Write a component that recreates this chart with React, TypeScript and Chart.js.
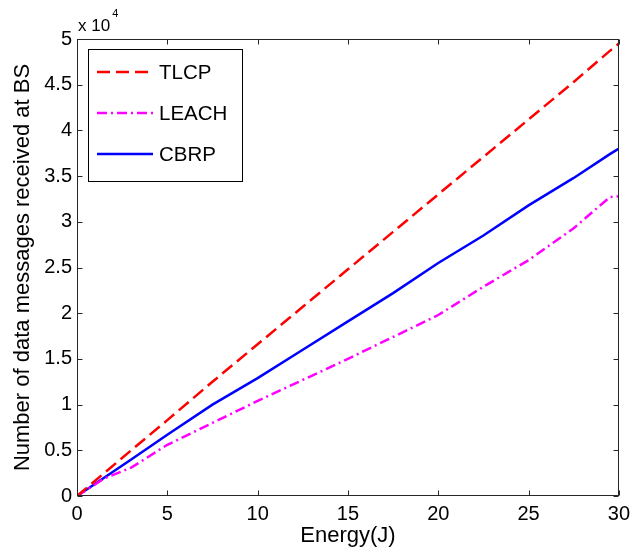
import React, { useEffect, useRef } from "react";
import { Chart, registerables } from "chart.js";

Chart.register(...registerables);

// Energy (J) sample points
const energy = [0, 1.5, 3, 5, 7.5, 10, 12.5, 15, 17.5, 20, 22.5, 25, 27.5, 29.5, 30];
// Number of data messages received at BS
const tlcp = [0, 2500, 5000, 8300, 12500, 16600, 20700, 24800, 28900, 33000, 37100, 41200, 45300, 48700, 49500];
const leach = [0, 1900, 3100, 5600, 8000, 10400, 12700, 15000, 17400, 19800, 22900, 25800, 29300, 32700, 32800];
const cbrp = [0, 2000, 4000, 6700, 10000, 12900, 16000, 19100, 22200, 25500, 28500, 31800, 34800, 37400, 38000];

const seriesLabels = ["TLCP", "LEACH", "CBRP"];
const xTitle = "Energy(J)";
const yTitle = "Number of data messages received at BS";
const yExponentBase = "x 10";
const yExponent = "4";

const FONT = '"Liberation Sans", Arial, Helvetica, sans-serif';

const pts = (ys: number[]) => energy.map((x, i) => ({ x, y: ys[i] }));

const framePlugin = {
  id: "matlabFrame",
  afterDraw(chart: any) {
    const { ctx, chartArea: a, scales } = chart;
    ctx.save();
    const L = Math.round(a.left) + 0.5;
    const R = Math.round(a.right) - 0.5;
    const T = Math.round(a.top) + 0.5;
    const B = Math.round(a.bottom) - 0.5;
    ctx.strokeStyle = "#262626";
    ctx.lineWidth = 1;
    ctx.setLineDash([]);
    ctx.strokeRect(L, T, R - L, B - T);
    const tl = 5;
    ctx.beginPath();
    scales.x.ticks.forEach((t: any) => {
      const px = Math.round(scales.x.getPixelForValue(t.value)) + 0.5;
      ctx.moveTo(px, B);
      ctx.lineTo(px, B - tl);
      ctx.moveTo(px, T);
      ctx.lineTo(px, T + tl);
    });
    scales.y.ticks.forEach((t: any) => {
      const py = Math.round(scales.y.getPixelForValue(t.value)) + 0.5;
      ctx.moveTo(L, py);
      ctx.lineTo(L + tl, py);
      ctx.moveTo(R, py);
      ctx.lineTo(R - tl, py);
    });
    ctx.stroke();

    // exponent label
    ctx.fillStyle = "#000";
    ctx.textBaseline = "middle";
    ctx.textAlign = "left";
    ctx.font = `17px ${FONT}`;
    ctx.fillText(yExponentBase, 78, 26);
    const w = ctx.measureText(yExponentBase).width;
    ctx.font = `11px ${FONT}`;
    ctx.fillText(yExponent, 78 + w + 2, 14);

    // legend
    const bx = 88.5, by = 49.5, bw = 154, bh = 132;
    ctx.fillStyle = "#fff";
    ctx.fillRect(bx, by, bw, bh);
    ctx.strokeStyle = "#000";
    ctx.lineWidth = 1;
    ctx.strokeRect(bx, by, bw, bh);
    chart.data.datasets.forEach((ds: any, i: number) => {
      const y = 72 + i * 41;
      ctx.beginPath();
      ctx.strokeStyle = ds.borderColor;
      ctx.lineWidth = ds.borderWidth;
      ctx.setLineDash(ds.borderDash || []);
      ctx.moveTo(97, y);
      ctx.lineTo(153, y);
      ctx.stroke();
      ctx.setLineDash([]);
      ctx.fillStyle = "#000";
      ctx.font = `20.5px ${FONT}`;
      ctx.textAlign = "left";
      ctx.textBaseline = "middle";
      ctx.fillText(ds.label, 159, y + 1);
    });
    ctx.restore();
  },
};

export default function App() {
  const ref = useRef<HTMLCanvasElement>(null);
  useEffect(() => {
    document.body.style.margin = "0";
    const chart = new Chart(ref.current!, {
      type: "line",
      data: {
        datasets: [
          {
            label: seriesLabels[0],
            data: pts(tlcp),
            borderColor: "#ff0000",
            borderWidth: 2.5,
            borderDash: [13, 6],
            pointRadius: 0,
            fill: false,
          },
          {
            label: seriesLabels[1],
            data: pts(leach),
            borderColor: "#ff00ff",
            borderWidth: 2.5,
            borderDash: [10, 4, 2, 4],
            pointRadius: 0,
            fill: false,
          },
          {
            label: seriesLabels[2],
            data: pts(cbrp),
            borderColor: "#0000ff",
            borderWidth: 2.5,
            pointRadius: 0,
            fill: false,
          },
        ],
      },
      options: {
        responsive: false,
        animation: false,
        layout: { padding: { top: 39, right: 10, left: 0, bottom: 0 } },
        plugins: { legend: { display: false }, tooltip: { enabled: false } },
        scales: {
          x: {
            type: "linear",
            min: 0,
            max: 30,
            grid: { display: false, drawTicks: false },
            border: { display: false },
            ticks: {
              stepSize: 5,
              padding: 6,
              color: "#000",
              maxRotation: 0,
              font: { family: FONT, size: 20 },
            },
            title: {
              display: true,
              text: xTitle,
              color: "#000",
              font: { family: FONT, size: 22 },
              padding: { top: 0, bottom: 4 },
            },
            afterFit: (s: any) => {
              s.height = 57;
            },
          },
          y: {
            type: "linear",
            min: 0,
            max: 50000,
            grid: { display: false, drawTicks: false },
            border: { display: false },
            ticks: {
              stepSize: 5000,
              padding: 5,
              color: "#000",
              font: { family: FONT, size: 20 },
              callback: (v: any) => String(Number(v) / 10000),
            },
            title: {
              display: true,
              text: yTitle,
              color: "#000",
              font: { family: FONT, size: 22 },
              padding: { top: 10, bottom: 0 },
            },
            afterFit: (s: any) => {
              s.width = 77;
            },
          },
        },
      },
      plugins: [framePlugin],
    });
    return () => chart.destroy();
  }, []);
  return (
    <div style={{ width: 636, height: 553, background: "#fff" }}>
      <canvas ref={ref} width={636} height={553} />
    </div>
  );
}
